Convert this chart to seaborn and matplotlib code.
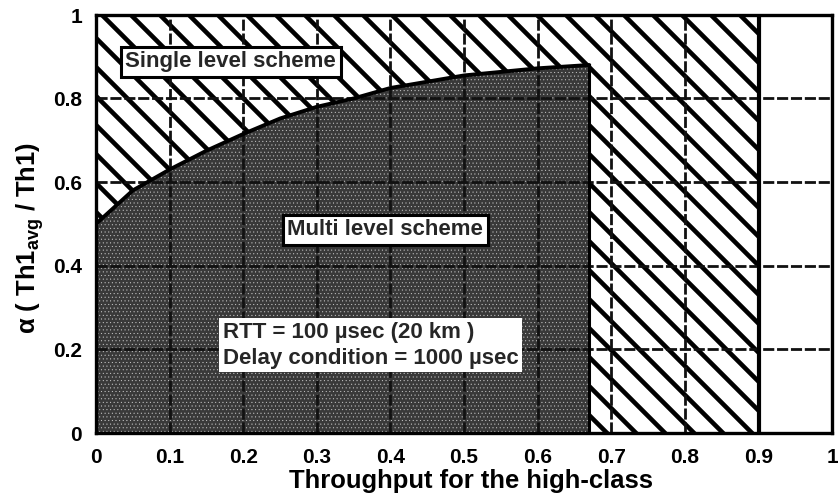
import matplotlib
matplotlib.use("Agg")
import matplotlib.pyplot as plt
import seaborn as sns
import numpy as np
import pandas as pd

# ---- data ----
curve_x = [0.0, 0.05, 0.10, 0.15, 0.20, 0.25, 0.30, 0.35, 0.40, 0.50, 0.60, 0.67]
curve_y = [0.50, 0.58, 0.63, 0.675, 0.715, 0.752, 0.78, 0.80, 0.825, 0.855, 0.872, 0.88]
single_region = [0.0, 0.9]     # hatched region x-range
x_ticks = [0, 0.1, 0.2, 0.3, 0.4, 0.5, 0.6, 0.7, 0.8, 0.9, 1]
x_tick_labels = ["0", "0.1", "0.2", "0.3", "0.4", "0.5", "0.6", "0.7", "0.8", "0.9", "1"]
y_ticks = [0, 0.2, 0.4, 0.6, 0.8, 1]
y_tick_labels = ["0", "0.2", "0.4", "0.6", "0.8", "1"]
label_single = "Single level scheme"
label_multi = "Multi level scheme"
label_cond = "RTT = 100 \u00b5sec (20 km )\nDelay condition = 1000 \u00b5sec"
x_label = "Throughput for the high-class"
y_label = "\u03b1 ( Th1$_{\\mathrm{avg}}$ / Th1)"

df = pd.DataFrame({"x": curve_x, "y": curve_y})

DPI = 87               # chosen so the default hatch spacing matches the reference
K = 100.0 / DPI        # keep sizes as they would look at 100 dpi


def pt(v):
    return v * K


sns.set_theme(style="white")
plt.rcParams["font.family"] = ["Liberation Sans", "DejaVu Sans"]
plt.rcParams["font.weight"] = "bold"
plt.rcParams["mathtext.fontset"] = "custom"
plt.rcParams["mathtext.rm"] = "Liberation Sans:bold"
plt.rcParams["mathtext.it"] = "Liberation Sans:bold:italic"
plt.rcParams["mathtext.bf"] = "Liberation Sans:bold"
plt.rcParams["hatch.linewidth"] = pt(3.3)

fig = plt.figure(figsize=((838 + 0.2) / DPI, (504 + 0.2) / DPI), dpi=DPI)
ax = fig.add_axes([96 / 838, 1 - 433 / 504, (832 - 96) / 838, (433 - 15) / 504])

# hatched region (single level scheme)
ax.fill_between(single_region, 0, 1, facecolor="white", edgecolor="black",
                hatch="\\", linewidth=0, zorder=1)
# stippled region (multi level scheme)
poly = ax.fill_between(df["x"], 0, df["y"], facecolor="#393939", edgecolor="#c8c8c8",
                       hatch="....", linewidth=0, zorder=1.2)
try:
    poly.set_hatch_linewidth(pt(0.3))
except Exception:
    pass

sns.lineplot(data=df, x="x", y="y", ax=ax, color="black", linewidth=pt(2.8),
             zorder=3, estimator=None, sort=False)
ax.axvline(curve_x[-1], ymin=0, ymax=curve_y[-1], color="black", linewidth=pt(2.2), zorder=3)
ax.axvline(single_region[1], color="black", linewidth=pt(3.0), zorder=3)

ax.set_xlim(0, 1)
ax.set_ylim(0, 1)
ax.set_xticks(x_ticks)
ax.set_xticklabels(x_tick_labels)
ax.set_yticks(y_ticks)
ax.set_yticklabels(y_tick_labels)
ax.tick_params(axis="x", length=0, labelsize=pt(15), pad=pt(11), colors="black")
ax.tick_params(axis="y", length=0, labelsize=pt(15), pad=pt(10), colors="black")
for lab in ax.get_xticklabels() + ax.get_yticklabels():
    lab.set_fontweight("bold")

ax.set_axisbelow(False)
ax.grid(True, color="#111111", linestyle=(0, (4, 1)), linewidth=pt(2.0))

for sp in ax.spines.values():
    sp.set_visible(True)
    sp.set_color("black")
    sp.set_linewidth(pt(2.4))
    sp.set_zorder(4)

ax.set_xlabel(x_label, fontsize=pt(18.5), fontweight="bold", color="black")
ax.xaxis.set_label_coords(0.51, -0.085)
ax.xaxis.label.set_va("top")
ax.set_ylabel(y_label, fontsize=pt(18.5), fontweight="bold", color="black")
ax.yaxis.set_label_coords(-0.068, 0.466)

ax.text(0.183, 0.888, label_single, fontsize=pt(16), fontweight="bold", ha="center", va="center",
        zorder=6, bbox=dict(boxstyle="square,pad=0.2", facecolor="white",
                            edgecolor="black", linewidth=pt(2.2)))
ax.text(0.393, 0.486, label_multi, fontsize=pt(16), fontweight="bold", ha="center", va="center",
        zorder=6, bbox=dict(boxstyle="square,pad=0.2", facecolor="white",
                            edgecolor="black", linewidth=pt(2.2)))
ax.text(0.172, 0.21, label_cond, fontsize=pt(16), fontweight="bold", ha="left", va="center",
        linespacing=1.35, zorder=6,
        bbox=dict(boxstyle="square,pad=0.15", facecolor="white", edgecolor="none"))

fig.savefig("out.png", dpi=DPI)
